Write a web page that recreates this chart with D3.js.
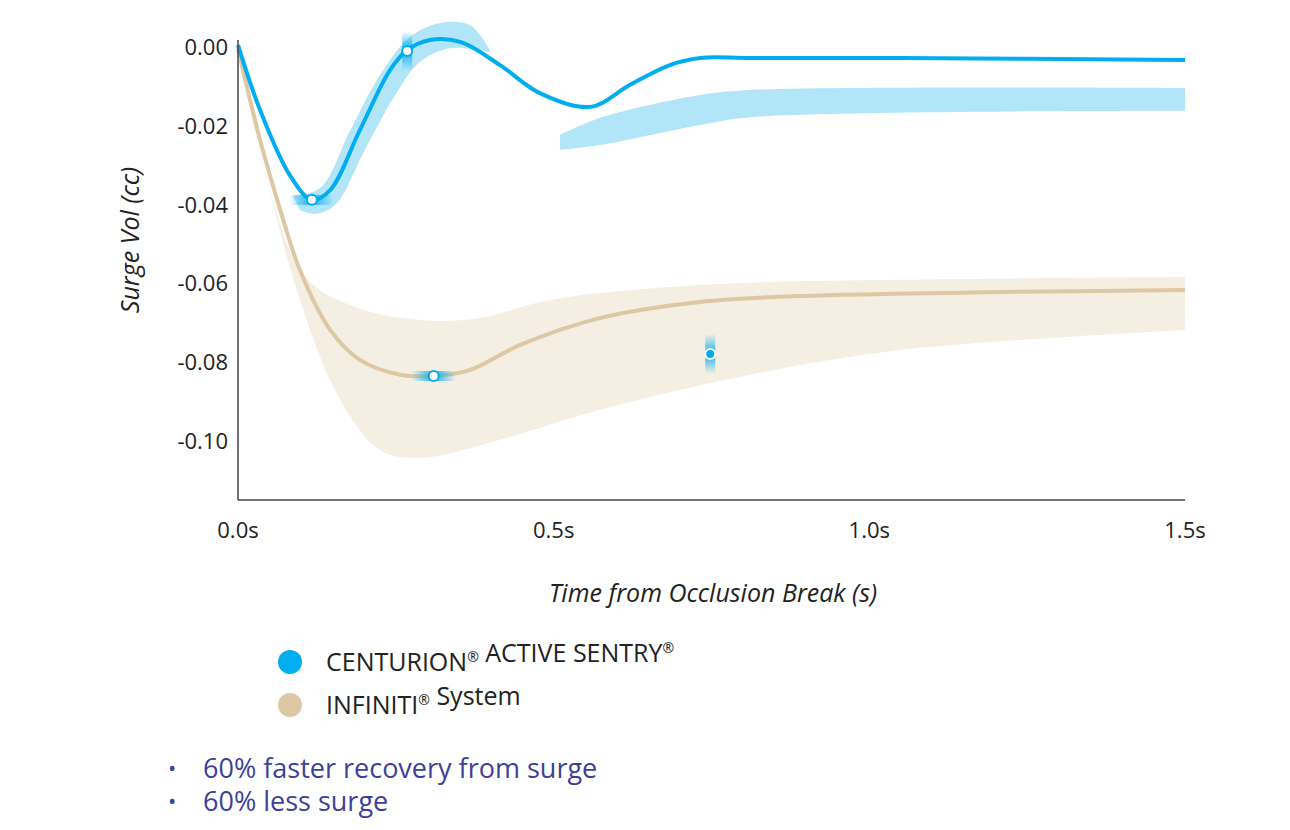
<!DOCTYPE html>
<html><head><meta charset="utf-8">
<script src="https://cdn.jsdelivr.net/npm/d3@7"></script>
<style>body{margin:0;background:#fff;font-family:"Open Sans",sans-serif;}</style>
</head><body>
<script>
// data
var xTicks = [0, 0.5, 1.0, 1.5];
var yTicks = [0, -0.02, -0.04, -0.06, -0.08, -0.10];

var blueT = [0,0.035,0.082,0.117,0.146,0.193,0.241,0.268,0.304,0.352,0.415,0.478,0.558,0.621,0.684,0.732,0.811,1.049,1.5];
var blueV = [0.0005,-0.016,-0.0325,-0.0388,-0.0363,-0.0211,-0.0058,-0.0008,0.0018,0.0013,-0.0046,-0.0117,-0.0152,-0.0096,-0.0046,-0.0028,-0.0028,-0.0028,-0.0033];

var band1HiT = [0.087,0.13,0.178,0.225,0.272,0.32,0.367,0.399];
var band1HiV = [-0.0378,-0.0358,-0.0211,-0.0071,0.0025,0.0061,0.0056,-0.0008];
var band1LoT = [0.098,0.122,0.154,0.201,0.249,0.288,0.336,0.399];
var band1LoV = [-0.0414,-0.0424,-0.0401,-0.0261,-0.0122,-0.0038,-0.0003,-0.0013];

var band2HiT = [0.51,0.573,0.732,0.811,1.5];
var band2HiV = [-0.0223,-0.018,-0.0122,-0.0109,-0.0104];
var band2LoT = [0.51,0.573,0.732,0.811,1.5];
var band2LoV = [-0.0261,-0.0249,-0.0198,-0.0178,-0.0162];

var tanT = [0,0.035,0.067,0.098,0.146,0.193,0.257,0.31,0.367,0.447,0.573,0.732,0.89,1.207,1.5];
var tanV = [-0.0005,-0.0236,-0.0414,-0.0566,-0.0718,-0.0794,-0.0832,-0.0835,-0.082,-0.0756,-0.0688,-0.0647,-0.0632,-0.0622,-0.0617];

var tanHiT = [0,0.098,0.177,0.288,0.383,0.494,0.732,1.049,1.5];
var tanHiV = [-0.0005,-0.0566,-0.0655,-0.0693,-0.0688,-0.0642,-0.0604,-0.0591,-0.0584];
var tanLoT = [0,0.035,0.098,0.162,0.225,0.288,0.415,0.573,0.811,1.049,1.5];
var tanLoV = [-0.0005,-0.0261,-0.0642,-0.0896,-0.1023,-0.1043,-0.0997,-0.0921,-0.0832,-0.0769,-0.0718];

// markers: [t, v, fill, glow direction]
var markers = [
  [0.117, -0.0388, 'white', 'h'],
  [0.268, -0.001, 'white', 'v'],
  [0.31, -0.0835, 'white', 'h'],
  [0.748, -0.0779, 'blue', 'v']
];

var legendNames = [['CENTURION', '\u00AE', ' ACTIVE SENTRY', '\u00AE'], ['INFINITI', '\u00AE', ' System']];
var legendColors = ['#00aeef', '#dcc8a4'];
var notes = ['60% faster recovery from surge', '60% less surge'];

var W = 1290, H = 830;
var BLUE = '#00aeef', TAN = '#dcc8a4';
var svg = d3.select('body').append('svg').attr('width', W).attr('height', H);

var x = d3.scaleLinear().domain([0, 1.5]).range([238, 1185]);
var y = d3.scaleLinear().domain([0, -0.1]).range([47, 441]);

var defs = svg.append('defs');
['h','v'].forEach(function(dir) {
  var g = defs.append('linearGradient').attr('id', 'glow' + dir)
    .attr('x1', 0).attr('y1', 0).attr('x2', dir == 'h' ? 1 : 0).attr('y2', dir == 'h' ? 0 : 1);
  g.append('stop').attr('offset', '0%').attr('stop-color', BLUE).attr('stop-opacity', 0);
  g.append('stop').attr('offset', '50%').attr('stop-color', BLUE).attr('stop-opacity', 0.9);
  g.append('stop').attr('offset', '100%').attr('stop-color', BLUE).attr('stop-opacity', 0);
});

var zip = function(t, v) { return t.map(function(d, i) { return [d, v[i]]; }); };
var line = d3.line().x(function(d){return x(d[0]);}).y(function(d){return y(d[1]);}).curve(d3.curveCatmullRom);
var band = function(hiT, hiV, loT, loV) {
  var up = line(zip(hiT, hiV));
  var lo = line(zip(loT, loV).reverse());
  return up + 'L' + lo.slice(1) + 'Z';
};

svg.append('path').attr('d', band(tanHiT, tanHiV, tanLoT, tanLoV)).attr('fill', '#f5eee2');
svg.append('path').attr('d', band(band1HiT, band1HiV, band1LoT, band1LoV)).attr('fill', '#b3e5f9');
svg.append('path').attr('d', band(band2HiT, band2HiV, band2LoT, band2LoV)).attr('fill', '#b3e5f9');

svg.append('path').attr('d', line(zip(tanT, tanV))).attr('fill', 'none').attr('stroke', TAN).attr('stroke-width', 4);
svg.append('path').attr('d', line(zip(blueT, blueV))).attr('fill', 'none').attr('stroke', BLUE).attr('stroke-width', 4);

// axes
svg.append('line').attr('x1', 238).attr('x2', 238).attr('y1', 40).attr('y2', 500).attr('stroke', '#444').attr('stroke-width', 1.5);
svg.append('line').attr('x1', 238).attr('x2', 1185).attr('y1', 500).attr('y2', 500).attr('stroke', '#444').attr('stroke-width', 1.5);

svg.selectAll('.yt').data(yTicks).enter().append('text')
  .attr('x', 228).attr('y', function(d){return y(d) + 8;}).attr('text-anchor', 'end')
  .attr('font-size', 22).attr('fill', '#222').text(function(d){return d3.format('.2f')(d).replace('\u2212','-');});
svg.selectAll('.xt').data(xTicks).enter().append('text')
  .attr('x', function(d){return x(d);}).attr('y', 538).attr('text-anchor', 'middle')
  .attr('font-size', 22).attr('fill', '#222').text(function(d){return d.toFixed(1) + 's';});

svg.append('text').attr('transform', 'translate(139,240) rotate(-90)').attr('text-anchor', 'middle')
  .attr('font-size', 25).attr('font-style', 'italic').attr('fill', '#222').text('Surge Vol (cc)');
svg.append('text').attr('x', 713).attr('y', 602).attr('text-anchor', 'middle')
  .attr('font-size', 25).attr('font-style', 'italic').attr('fill', '#222').text('Time from Occlusion Break (s)');

// markers
markers.forEach(function(m) {
  var cx = x(m[0]), cy = y(m[1]);
  if (m[3] == 'h') svg.append('rect').attr('x', cx - 22).attr('y', cy - 5).attr('width', 44).attr('height', 10).attr('fill', 'url(#glowh)');
  else svg.append('rect').attr('x', cx - 5).attr('y', cy - 20).attr('width', 10).attr('height', 40).attr('fill', 'url(#glowv)');
  svg.append('circle').attr('cx', cx).attr('cy', cy).attr('r', 5)
    .attr('fill', m[2] == 'white' ? 'white' : BLUE)
    .attr('stroke', m[2] == 'white' ? BLUE : 'white').attr('stroke-width', 2);
});

// legend
legendNames.forEach(function(parts, i) {
  svg.append('circle').attr('cx', 290).attr('cy', 662 + i * 43).attr('r', 12).attr('fill', legendColors[i]);
  var t = svg.append('text').attr('x', 326).attr('y', 671 + i * 43).attr('font-size', 25).attr('fill', '#222');
  parts.forEach(function(p) {
    if (p == '\u00AE') t.append('tspan').attr('font-size', 14).attr('dy', -9).text(p)
      .call(function(){ t.append('tspan').attr('dy', 9).text(''); });
    else t.append('tspan').text(p);
  });
});

notes.forEach(function(n, i) {
  svg.append('text').attr('x', 168).attr('y', 776 + i * 33).attr('font-size', 22).attr('fill', '#3d3f9a').text('\u2022');
  svg.append('text').attr('x', 203).attr('y', 778 + i * 33).attr('font-size', 27).attr('fill', '#3d3f9a').text(n);
});
</script>
</body></html>
